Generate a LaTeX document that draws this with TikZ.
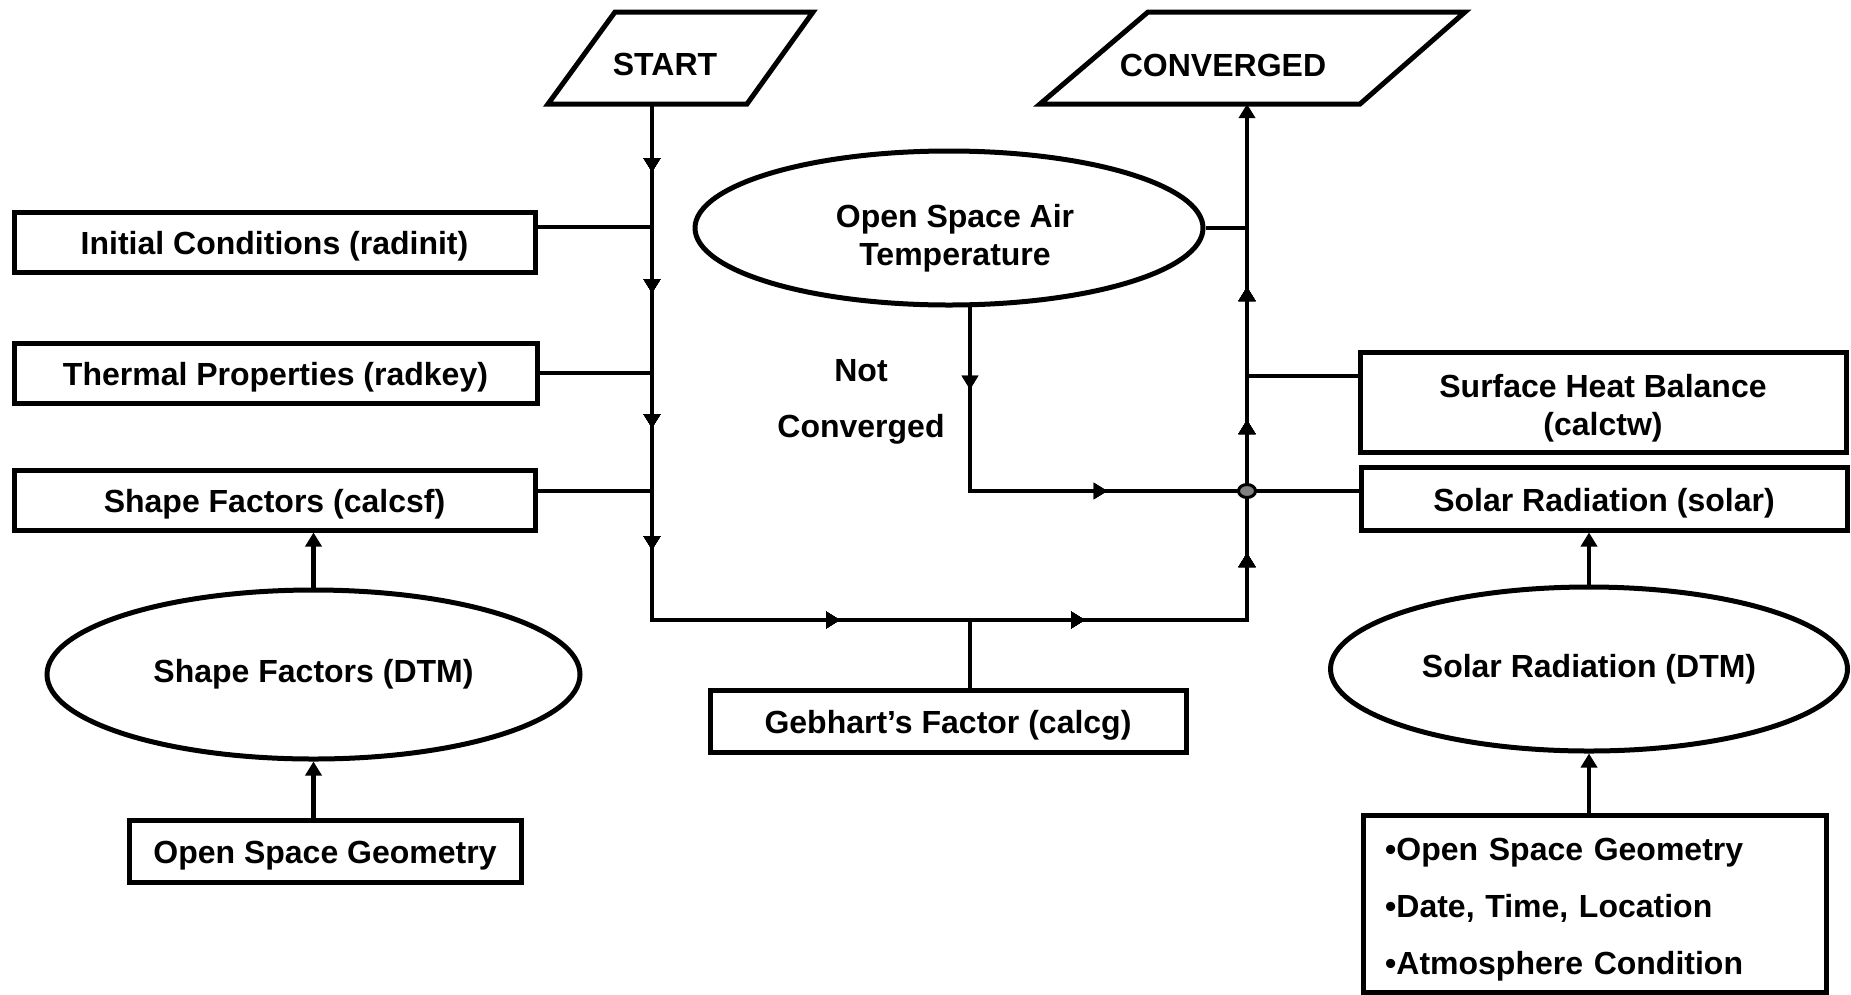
\documentclass[tikz,border=0pt]{standalone}
\usepackage{fontspec}
\setmainfont{Liberation Sans}
\usetikzlibrary{arrows.meta,shapes.geometric,decorations.markings}
\begin{document}
\begin{tikzpicture}[x=1pt,y=-1pt,
  every node/.style={font=\fontsize{32}{38}\selectfont\bfseries},
  ln/.style={line width=4.5pt},
  box/.style={draw,line width=5pt,rectangle,inner sep=0pt,align=center,text height=25pt,text depth=0pt},
  oval/.style={draw,line width=5pt,ellipse,inner sep=0pt,align=center},
  tip/.style={-{Triangle[width=16pt,length=14pt]}},
  mtip/.style={postaction={decorate},decoration={markings,
     mark=at position #1 with {\arrow{Triangle[width=16pt,length=14pt]}}}},
]
\useasboundingbox (0,0) rectangle (1851,994);

% start / converged
\draw[line width=5pt,line join=miter] (615,12) -- (813,12) -- (747,104) -- (548,104) -- cycle;
\node (start) at (665,64) {START};
\draw[line width=5pt,line join=miter] (1148,12) -- (1465,12) -- (1360,104) -- (1040,104) -- cycle;
\node (conv) at (1223,65) {CONVERGED};
\coordinate (sb) at (652,104);
\coordinate (cb) at (1247,104);
\coordinate (BL) at (652,620);
\coordinate (BR) at (1247,620);

% left boxes
\node[box,minimum width=521pt,minimum height=60pt] (init) at (274.5,242) {Initial Conditions (radinit)};
\node[box,minimum width=523pt,minimum height=60pt] (therm) at (275.5,373) {Thermal Properties (radkey)};
\node[box,minimum width=521pt,minimum height=60pt] (sfc) at (274.5,500) {Shape Factors (calcsf)};
\node[oval,minimum width=533pt,minimum height=169pt] (sfd) at (313.5,674.5) {Shape Factors (DTM)};
\node[box,minimum width=392pt,minimum height=62pt] (osg) at (325,851) {Open Space Geometry};

% centre
\node[oval,minimum width=508pt,minimum height=154pt] (oat) at (949,228) {};
\node[align=center] (oatt) at (955,238) {Open Space Air\\Temperature};
\node (nc1) at (861,371) {Not};
\node (nc2) at (861,429) {Converged};
\node[box,minimum width=476pt,minimum height=62pt] (geb) at (948,721) {Gebhart’s Factor (calcg)};

% right
\node[box,minimum width=486pt,minimum height=100pt] (shb) at (1603,402) {};
\node[align=center] (shbt) at (1603,408) {Surface Heat Balance\\(calctw)};
\node[box,minimum width=486pt,minimum height=63pt] (sol) at (1604,498.5) {Solar Radiation (solar)};
\node[oval,minimum width=517pt,minimum height=164pt] (srd) at (1589,669) {Solar Radiation (DTM)};
\node[box,minimum width=463pt,minimum height=177pt] (inp) at (1594.5,903.5) {};
\node[text width=417pt,inner sep=0pt,align=left,anchor=west,
      font=\fontsize{32}{57}\selectfont\bfseries] (inpt) at (1385,910)
  {•Open Space Geometry\\•Date, Time, Location\\•Atmosphere Condition};

% junctions
\coordinate (J1) at (652,227);
\coordinate (J2) at (652,373);
\coordinate (J3) at (652,491);
\coordinate (R1) at (1247,228);
\coordinate (R2) at (1247,376);
\coordinate (D) at (1247,491);
\coordinate (G) at (970,620);
\coordinate (K) at (970,491);

% main loop
\draw[ln,tip,mtip=68pt,mtip=189pt,mtip=324pt,mtip=446pt,mtip=704pt,mtip=949pt,
      mtip=1178pt,mtip=1311pt,mtip=1444pt]
  (sb) -- (BL) -- (BR) -- (cb);

\draw[ln] (J1 -| init.east) -- (J1);
\draw[ln] (J2 -| therm.east) -- (J2);
\draw[ln] (J3 -| sfc.east) -- (J3);
\draw[ln] (G) -- (G |- geb.north);

\draw[ln] (oat.east) -- (R1);
\draw[ln] (R2) -- (R2 -| shb.west);
\draw[ln] (D) -- (D -| sol.west);
\draw[ln,mtip=87pt,mtip=326pt] (K |- oat.south) ++(0,-5) -- (K) -- (D);

\draw[ln,tip] (sfd.north) -- (sfd.north |- sfc.south);
\draw[ln,tip] (sfd.south |- osg.north) -- (sfd.south);
\draw[ln,tip] (srd.north) -- (srd.north |- sol.south);
\draw[ln,tip] (srd.south |- inp.north) -- (srd.south);

\node[draw=black,line width=3pt,fill=gray,ellipse,minimum width=17pt,minimum height=13pt,inner sep=0pt] (dot) at (D) {};
\end{tikzpicture}
\end{document}
